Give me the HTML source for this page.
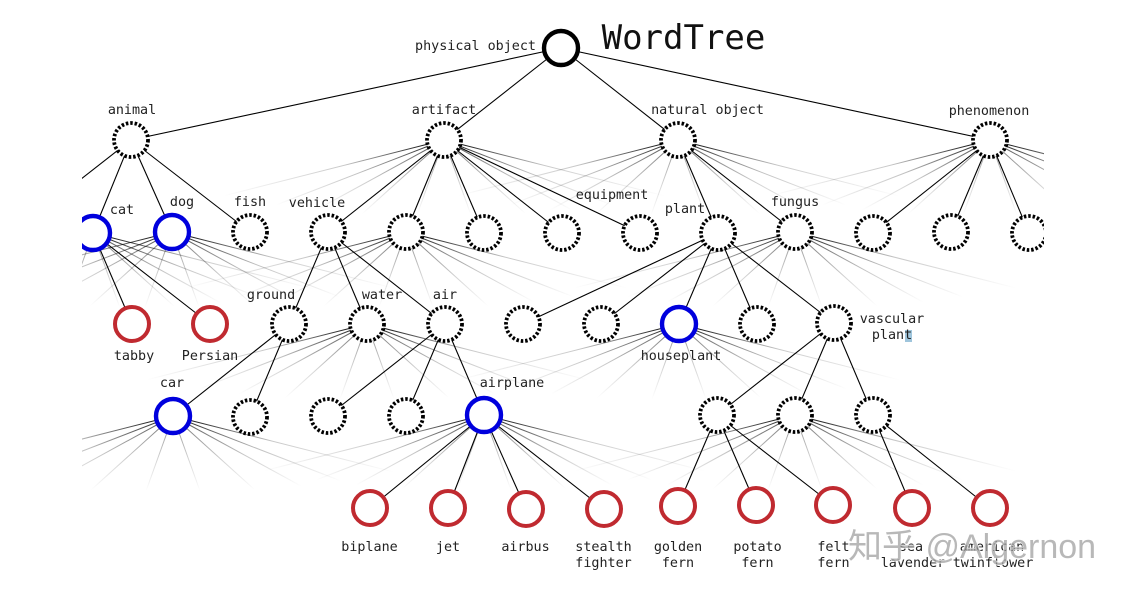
<!DOCTYPE html>
<html>
<head>
<meta charset="utf-8">
<style>
html,body{margin:0;padding:0;background:#fff;width:1128px;height:596px;overflow:hidden}
svg{display:block}
text{font-family:"DejaVu Sans Mono","Liberation Mono",monospace;font-size:13.4px;fill:#222;text-anchor:middle}
.e line{stroke:#000;stroke-width:1.1}
.f line{stroke-width:1}
.d circle{fill:#fff;stroke:#000;stroke-width:3.8;stroke-dasharray:2.5 1.9}
.b circle{fill:#fff;stroke:#0000dd;stroke-width:4.4}
.r circle{fill:#fff;stroke:#c02a30;stroke-width:4}
</style>
</head>
<body>
<svg width="1128" height="596" viewBox="0 0 1128 596" xmlns="http://www.w3.org/2000/svg">
<defs>
<clipPath id="c"><rect x="82" y="0" width="962" height="596"/></clipPath>
<linearGradient id="g1" gradientUnits="userSpaceOnUse" x1="0" y1="0" x2="27" y2="75"><stop offset="0.2" stop-color="#000" stop-opacity=".38"/><stop offset="0.6" stop-color="#000" stop-opacity=".16"/><stop offset="1" stop-color="#000" stop-opacity="0"/></linearGradient>
<linearGradient id="g2" gradientUnits="userSpaceOnUse" x1="0" y1="0" x2="82" y2="74"><stop offset="0.15" stop-color="#000" stop-opacity=".5"/><stop offset="0.6" stop-color="#000" stop-opacity=".18"/><stop offset="1" stop-color="#000" stop-opacity="0"/></linearGradient>
<linearGradient id="g3" gradientUnits="userSpaceOnUse" x1="0" y1="0" x2="128" y2="70"><stop offset="0.1" stop-color="#000" stop-opacity=".65"/><stop offset="0.55" stop-color="#000" stop-opacity=".22"/><stop offset="1" stop-color="#000" stop-opacity="0"/></linearGradient>
<linearGradient id="g4" gradientUnits="userSpaceOnUse" x1="0" y1="0" x2="168" y2="65"><stop offset="0.1" stop-color="#000" stop-opacity=".8"/><stop offset="0.5" stop-color="#000" stop-opacity=".25"/><stop offset="1" stop-color="#000" stop-opacity="0"/></linearGradient>
<linearGradient id="g5" gradientUnits="userSpaceOnUse" x1="0" y1="0" x2="221" y2="56"><stop offset="0.08" stop-color="#000" stop-opacity=".9"/><stop offset="0.45" stop-color="#000" stop-opacity=".22"/><stop offset="1" stop-color="#000" stop-opacity="0"/></linearGradient>
<linearGradient id="h1" gradientUnits="userSpaceOnUse" x1="0" y1="0" x2="-27" y2="75"><stop offset="0.2" stop-color="#000" stop-opacity=".38"/><stop offset="0.6" stop-color="#000" stop-opacity=".16"/><stop offset="1" stop-color="#000" stop-opacity="0"/></linearGradient>
<linearGradient id="h2" gradientUnits="userSpaceOnUse" x1="0" y1="0" x2="-82" y2="74"><stop offset="0.15" stop-color="#000" stop-opacity=".5"/><stop offset="0.6" stop-color="#000" stop-opacity=".18"/><stop offset="1" stop-color="#000" stop-opacity="0"/></linearGradient>
<linearGradient id="h3" gradientUnits="userSpaceOnUse" x1="0" y1="0" x2="-128" y2="70"><stop offset="0.1" stop-color="#000" stop-opacity=".65"/><stop offset="0.55" stop-color="#000" stop-opacity=".22"/><stop offset="1" stop-color="#000" stop-opacity="0"/></linearGradient>
<linearGradient id="h4" gradientUnits="userSpaceOnUse" x1="0" y1="0" x2="-168" y2="65"><stop offset="0.1" stop-color="#000" stop-opacity=".8"/><stop offset="0.5" stop-color="#000" stop-opacity=".25"/><stop offset="1" stop-color="#000" stop-opacity="0"/></linearGradient>
<linearGradient id="h5" gradientUnits="userSpaceOnUse" x1="0" y1="0" x2="-221" y2="56"><stop offset="0.08" stop-color="#000" stop-opacity=".9"/><stop offset="0.45" stop-color="#000" stop-opacity=".22"/><stop offset="1" stop-color="#000" stop-opacity="0"/></linearGradient>
<g id="fan" class="f">
<line x1="0" y1="0" x2="27" y2="75" stroke="url(#g1)"/>
<line x1="0" y1="0" x2="82" y2="74" stroke="url(#g2)"/>
<line x1="0" y1="0" x2="128" y2="70" stroke="url(#g3)"/>
<line x1="0" y1="0" x2="168" y2="65" stroke="url(#g4)"/>
<line x1="0" y1="0" x2="221" y2="56" stroke="url(#g5)"/>
<line x1="0" y1="0" x2="-27" y2="75" stroke="url(#h1)"/>
<line x1="0" y1="0" x2="-82" y2="74" stroke="url(#h2)"/>
<line x1="0" y1="0" x2="-128" y2="70" stroke="url(#h3)"/>
<line x1="0" y1="0" x2="-168" y2="65" stroke="url(#h4)"/>
<line x1="0" y1="0" x2="-221" y2="56" stroke="url(#h5)"/>
</g>
</defs>
<g clip-path="url(#c)">
<use href="#fan" x="444" y="140"/>
<use href="#fan" x="678" y="140"/>
<use href="#fan" x="990" y="140"/>
<use href="#fan" x="93" y="233"/>
<use href="#fan" x="172" y="232"/>
<use href="#fan" x="406" y="232"/>
<use href="#fan" x="795" y="232"/>
<use href="#fan" x="367" y="324"/>
<use href="#fan" x="679" y="324"/>
<use href="#fan" x="173" y="416"/>
<use href="#fan" x="484" y="415"/>
<use href="#fan" x="795" y="415"/>
<g class="e">
<line x1="561" y1="48" x2="131" y2="140"/><line x1="561" y1="48" x2="444" y2="140"/><line x1="561" y1="48" x2="678" y2="140"/><line x1="561" y1="48" x2="990" y2="140"/>
<line x1="131" y1="140" x2="53" y2="201"/><line x1="131" y1="140" x2="93" y2="233"/><line x1="131" y1="140" x2="172" y2="232"/><line x1="131" y1="140" x2="250" y2="232"/>
<line x1="444" y1="140" x2="328" y2="232"/><line x1="444" y1="140" x2="406" y2="232"/><line x1="444" y1="140" x2="484" y2="233"/><line x1="444" y1="140" x2="562" y2="233"/><line x1="444" y1="140" x2="640" y2="233"/>
<line x1="678" y1="140" x2="718" y2="233"/><line x1="678" y1="140" x2="795" y2="232"/>
<line x1="990" y1="140" x2="873" y2="233"/><line x1="990" y1="140" x2="951" y2="232"/><line x1="990" y1="140" x2="1029" y2="233"/>
<line x1="93" y1="233" x2="132" y2="324"/><line x1="93" y1="233" x2="210" y2="324"/>
<line x1="328" y1="232" x2="289" y2="324"/><line x1="328" y1="232" x2="367" y2="324"/><line x1="328" y1="232" x2="445" y2="324"/>
<line x1="718" y1="233" x2="523" y2="324"/><line x1="718" y1="233" x2="601" y2="324"/><line x1="718" y1="233" x2="679" y2="324"/><line x1="718" y1="233" x2="757" y2="324"/><line x1="718" y1="233" x2="834" y2="323"/>
<line x1="289" y1="324" x2="173" y2="416"/><line x1="289" y1="324" x2="250" y2="417"/>
<line x1="445" y1="324" x2="328" y2="416"/><line x1="445" y1="324" x2="406" y2="416"/><line x1="445" y1="324" x2="484" y2="415"/>
<line x1="834" y1="323" x2="717" y2="415"/><line x1="834" y1="323" x2="795" y2="415"/><line x1="834" y1="323" x2="873" y2="415"/>
<line x1="484" y1="415" x2="370" y2="508"/><line x1="484" y1="415" x2="448" y2="508"/><line x1="484" y1="415" x2="526" y2="509"/><line x1="484" y1="415" x2="604" y2="509"/>
<line x1="717" y1="415" x2="678" y2="506"/><line x1="717" y1="415" x2="756" y2="505"/><line x1="717" y1="415" x2="833" y2="505"/>
<line x1="873" y1="415" x2="912" y2="508"/><line x1="873" y1="415" x2="990" y2="508"/>
</g>
<circle cx="561" cy="48" r="17" fill="#fff" stroke="#000" stroke-width="4.4"/>
<g class="d">
<circle cx="131" cy="140" r="17"/><circle cx="444" cy="140" r="17"/><circle cx="678" cy="140" r="17"/><circle cx="990" cy="140" r="17"/>
<circle cx="250" cy="232" r="17"/><circle cx="328" cy="232" r="17"/><circle cx="406" cy="232" r="17"/><circle cx="484" cy="233" r="17"/><circle cx="562" cy="233" r="17"/><circle cx="640" cy="233" r="17"/><circle cx="718" cy="233" r="17"/><circle cx="795" cy="232" r="17"/><circle cx="873" cy="233" r="17"/><circle cx="951" cy="232" r="17"/><circle cx="1029" cy="233" r="17"/>
<circle cx="289" cy="324" r="17"/><circle cx="367" cy="324" r="17"/><circle cx="445" cy="324" r="17"/><circle cx="523" cy="324" r="17"/><circle cx="601" cy="324" r="17"/><circle cx="757" cy="324" r="17"/><circle cx="834" cy="323" r="17"/>
<circle cx="250" cy="417" r="17"/><circle cx="328" cy="416" r="17"/><circle cx="406" cy="416" r="17"/><circle cx="717" cy="415" r="17"/><circle cx="795" cy="415" r="17"/><circle cx="873" cy="415" r="17"/>
</g>
<g class="b">
<circle cx="93" cy="233" r="17"/><circle cx="172" cy="232" r="17"/><circle cx="679" cy="324" r="17"/><circle cx="173" cy="416" r="17"/><circle cx="484" cy="415" r="17"/>
</g>
<g class="r">
<circle cx="132" cy="324" r="17"/><circle cx="210" cy="324" r="17"/>
<circle cx="370" cy="508" r="17"/><circle cx="448" cy="508" r="17"/><circle cx="526" cy="509" r="17"/><circle cx="604" cy="509" r="17"/>
<circle cx="678" cy="506" r="17"/><circle cx="756" cy="505" r="17"/><circle cx="833" cy="505" r="17"/><circle cx="912" cy="508" r="17"/><circle cx="990" cy="508" r="17"/>
</g>
</g>
<rect x="905" y="330" width="7" height="12" fill="#9fc5dc"/>
<text x="683.500" y="49" style="font-size:34px;fill:#111">WordTree</text>
<text x="475.500" y="50">physical object</text>
<text x="132" y="114">animal</text>
<text x="444" y="114">artifact</text>
<text x="707.500" y="114">natural object</text>
<text x="989" y="115">phenomenon</text>
<text x="122" y="214">cat</text>
<text x="182" y="206">dog</text>
<text x="250" y="206">fish</text>
<text x="317" y="207">vehicle</text>
<text x="612" y="199">equipment</text>
<text x="685" y="213">plant</text>
<text x="795" y="206">fungus</text>
<text x="271" y="299">ground</text>
<text x="382" y="299">water</text>
<text x="445" y="299">air</text>
<text x="892" y="323">vascular</text>
<text x="892" y="339">plant</text>
<text x="134" y="360">tabby</text>
<text x="210" y="360">Persian</text>
<text x="681" y="360">houseplant</text>
<text x="172" y="387">car</text>
<text x="512" y="387">airplane</text>
<text x="369.500" y="551">biplane</text>
<text x="448" y="551">jet</text>
<text x="525.500" y="551">airbus</text>
<text x="603.500" y="551">stealth</text>
<text x="603.500" y="567">fighter</text>
<text x="678" y="551">golden</text>
<text x="678" y="567">fern</text>
<text x="757.500" y="551">potato</text>
<text x="757.500" y="567">fern</text>
<text x="833.500" y="551">felt</text>
<text x="833.500" y="567">fern</text>
<text x="911" y="551">sea</text>
<text x="913" y="567">lavender</text>
<text x="992" y="551">american</text>
<text x="993" y="567">twinflower</text>
<text x="848" y="558" style="text-anchor:start;font-family:'Liberation Sans','Noto Sans CJK SC',sans-serif;font-size:34px;fill:#9a9a9a;fill-opacity:.7;stroke:#fff;stroke-width:1.5;stroke-opacity:.8;paint-order:stroke">知乎 @Algernon</text>
</svg>
</body>
</html>
